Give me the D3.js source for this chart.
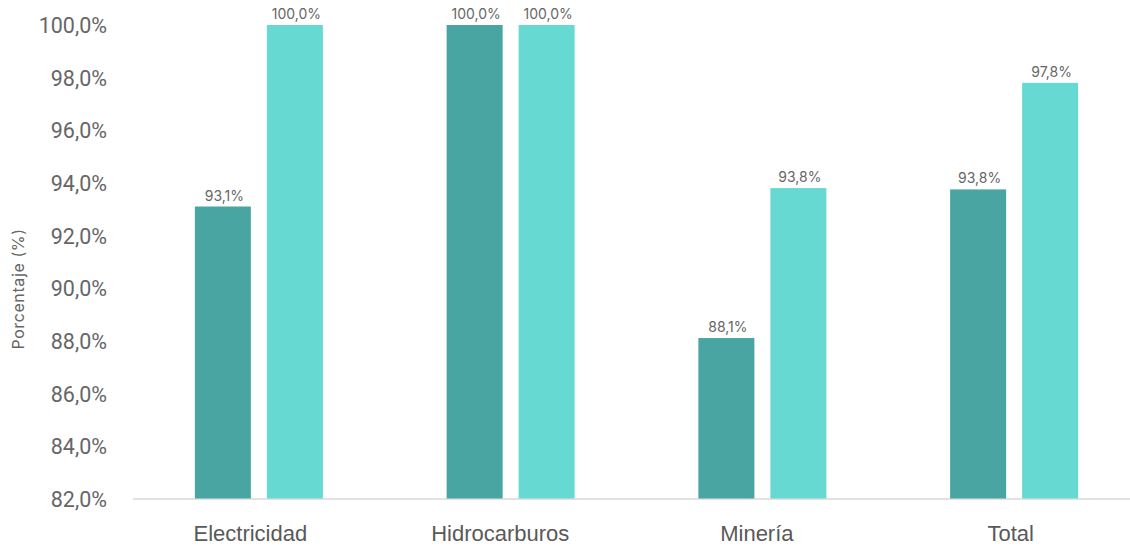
<!DOCTYPE html>
<html><head><meta charset="utf-8">
<script src="https://cdn.jsdelivr.net/npm/d3@7"></script>
<style>body{margin:0;background:#fff}svg{display:block}</style>
</head><body><svg id="c" width="1130" height="546"></svg>
<script>
const categories = ["Electricidad", "Hidrocarburos", "Minería", "Total"];
const seriesNames = ["Serie 1", "Serie 2"];
const series1 = [93.1, 100.0, 88.1, 93.75];
const series2 = [100.0, 100.0, 93.8, 97.8];
const yTicks = [82, 84, 86, 88, 90, 92, 94, 96, 98, 100];
const colors = ["#49A5A1", "#66D9D3"];
const yTitle = "Porcentaje (%)";

const svg = d3.select("#c");
const fmt = v => v.toFixed(1).replace(".", ",") + "%";
const y = d3.scaleLinear().domain([82, 100]).range([498.5, 25]);
const x0 = d3.scaleBand().domain(categories).range([133, 1140]).padding(0);
const x1 = d3.scaleBand().domain(seriesNames).range([0, 128]).paddingInner(0.2222).paddingOuter(0);
const gw = 128;

// baseline
svg.append("line").attr("x1", 133).attr("x2", 1130).attr("y1", y(82)+0.5).attr("y2", y(82)+0.5)
  .attr("stroke", "#d9d9d9").attr("stroke-width", 1.5);

// y axis
const yAxis = d3.axisLeft(y).tickValues(yTicks).tickFormat(d => d.toFixed(1).replace(".", ",") + "%").tickSize(0).tickPadding(0);
const ga = svg.append("g").attr("transform", "translate(107,0)").call(yAxis);
ga.select(".domain").remove();
ga.selectAll("text").attr("font-family", "Roboto, sans-serif").attr("font-size", 21.5).attr("fill", "#666").attr("dy", "0.36em");

// y title
svg.append("text").attr("transform", "translate(24,289) rotate(-90)").attr("text-anchor", "middle")
  .attr("font-family", "Inter, sans-serif").attr("font-size", 16).attr("letter-spacing", 0.6).attr("fill", "#666").text(yTitle);

// bars
const data = categories.map((c, i) => ({c, vals: [series1[i], series2[i]]}));
const groups = svg.selectAll("g.grp").data(data).join("g").attr("class", "grp")
  .attr("transform", d => `translate(${x0(d.c) + x0.bandwidth()/2 - gw/2},0)`);
groups.selectAll("rect").data(d => d.vals.map((v, j) => ({v, s: seriesNames[j], j}))).join("rect")
  .attr("x", d => x1(d.s)).attr("width", x1.bandwidth())
  .attr("y", d => y(d.v)).attr("height", d => y(82) - y(d.v))
  .attr("fill", d => colors[d.j]);
groups.selectAll("text.lbl").data(d => d.vals.map((v, j) => ({v, s: seriesNames[j], j}))).join("text").attr("class", "lbl")
  .attr("x", d => x1(d.s) + x1.bandwidth()/2 + 1.5).attr("y", d => y(d.v) - 6)
  .attr("text-anchor", "middle").attr("font-family", "Inter, sans-serif").attr("font-size", 14)
  .attr("fill", "#666").text(d => fmt(d.v));

// category labels
svg.selectAll("text.cat").data(categories).join("text").attr("class", "cat")
  .attr("x", d => x0(d) + x0.bandwidth()/2).attr("y", 541)
  .attr("text-anchor", "middle").attr("font-family", "'Liberation Sans', Arial, sans-serif").attr("font-size", 22)
  .attr("fill", "#595959").text(d => d)
  .attr("dx", function() { return -0.075 * this.getComputedTextLength(); });
</script></body></html>
